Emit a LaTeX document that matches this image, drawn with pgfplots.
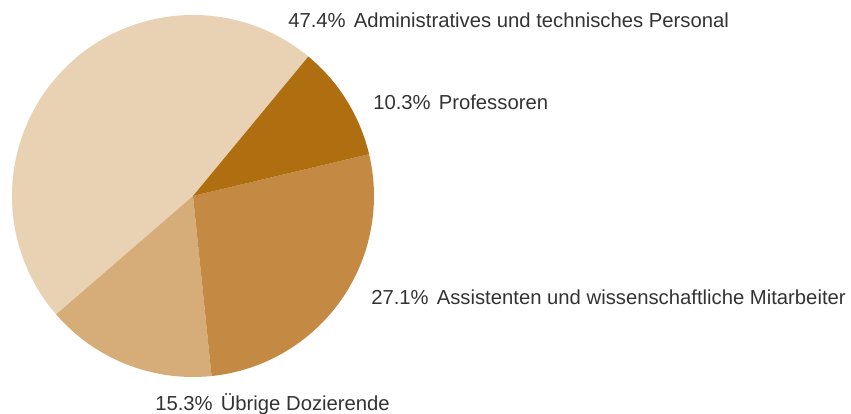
\documentclass[border=0pt]{standalone}
\usepackage{pgfplots}
\pgfplotsset{compat=1.18}
\usepackage{fontspec}
\setmainfont{Liberation Sans}
\definecolor{cadmin}{HTML}{E9D1B3}
\definecolor{cuebrig}{HTML}{D6AC78}
\definecolor{cassist}{HTML}{C48A44}
\definecolor{cprof}{HTML}{AF6E0F}
\definecolor{labeltext}{HTML}{333333}

\begin{document}
\begin{tikzpicture}
\useasboundingbox (0,0) rectangle (638.25pt,310.5pt);
\begin{axis}[
    scale only axis,
    width=638.25pt, height=310.5pt,
    xmin=0, xmax=851, ymin=0, ymax=414,
    hide axis, clip=false,
]
% shares in percent, drawn counterclockwise from 50.4 degrees (sum 100.1)
\foreach \v/\c [remember=\b as \a (initially 50.4)] in {47.4/cadmin, 15.3/cuebrig, 27.1/cassist, 10.3/cprof} {
    \pgfmathsetmacro\b{\a+\v*3.5964}
    \edef\temp{\noexpand\fill[\c] (axis cs:193,218) -- ++(\a:135.75pt)
        arc[start angle=\a, end angle=\b, radius=135.75pt] -- cycle;}
    \temp
}
\begin{scope}[every node/.style={anchor=west, inner sep=0pt, text=labeltext, font=\fontsize{15.2}{17}\selectfont}]
\node at (axis cs:288,394) {47.4\%\hspace{0.4em}Administratives und technisches Personal};
\node at (axis cs:373,312) {10.3\%\hspace{0.4em}Professoren};
\node at (axis cs:371,117) {27.1\%\hspace{0.4em}Assistenten und wissenschaftliche Mitarbeiter};
\node at (axis cs:155,10) {15.3\%\hspace{0.4em}Übrige Dozierende};
\end{scope}
\end{axis}
\end{tikzpicture}
\end{document}
